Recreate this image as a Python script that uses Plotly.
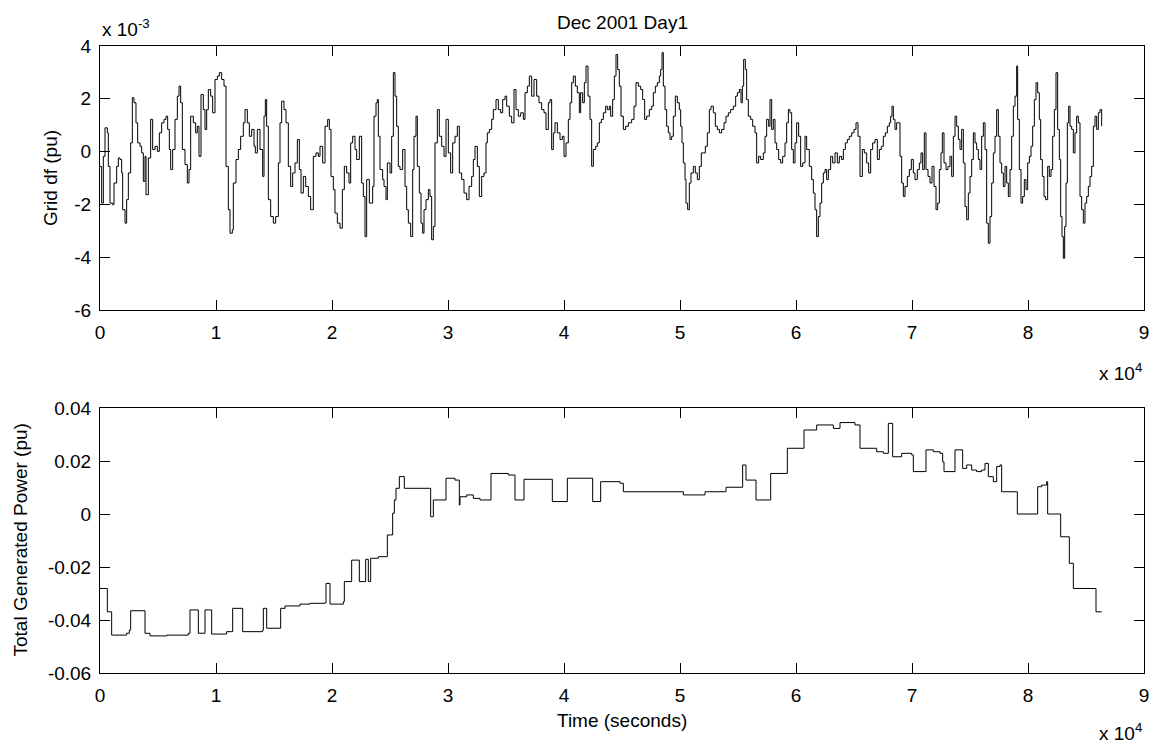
import plotly.graph_objects as go

# ---------------- data ----------------
# Grid df, (time in seconds, value in units of 1e-3 pu)
df_seg1 = [(0,-0.56),(144,-1.95),(287,-0.18),(431,0.90),(632,0.71),(718,-0.56),(862,-1.95),(1092,-2.01),(1207,-1.19),(1437,-0.56),(1580,-0.24),(1724,-0.30),(1868,-0.81),(1954,-2.20),(2155,-2.71),(2299,-1.82),(2443,-0.81),(2644,0.33),(2787,2.04),(2931,1.85),(3103,1.09),(3247,0.33),(3448,0.20),(3592,-0.05),(3736,-1.13),(3879,-0.18),(3966,-1.63),(4167,-0.24),(4368,1.22),(4540,0.08),(4741,0.20),(4943,0.01),(5115,0.71),(5316,1.09),(5517,1.22),(5690,1.34),(5833,0.84),(5977,0.08),(6092,-0.68),(6264,0.08),(6466,1.22),(6667,2.10),(6810,2.48),(6954,1.85),(7098,0.08),(7328,-0.49),(7529,-1.19),(7673,-0.68),(7816,1.34),(8046,1.09),(8247,0.71),(8391,0.96),(8535,-0.18),(8707,2.16),(8908,1.59),(9052,0.84),(9196,1.59),(9339,2.35),(9540,2.10),(9713,1.47),(9914,2.73),(10115,2.86),(10287,2.99),(10489,2.73),(10690,2.48),(10862,-0.56),(11063,-2.20),(11207,-3.09),(11408,-2.96),(11494,-1.19),(11724,-0.30),(11925,0.08),(12127,0.58),(12356,1.09),(12500,1.59),(12701,1.09),(12874,0.58),(13075,0.84),(13276,0.20),(13391,-0.05),(13563,0.84),(13793,0.08),(14023,-0.94),(14138,1.34),(14253,1.97),(14368,0.96),(14512,-1.82),(14713,-2.46),(14943,-2.71),(15144,-2.46),(15374,-0.43),(15517,1.09),(15661,1.91),(15862,1.59),(16035,1.09),(16236,-0.56),(16437,-1.32),(16609,-0.81),(16811,-0.43),(17012,0.46),(17184,-0.68),(17328,-1.57),(17529,-0.94),(17730,-1.32),(17960,-1.70),(18161,-2.20),(18391,-0.18),(18621,-0.05),(18822,-0.18),(18966,0.20),(19196,-0.43),(19397,0.96),(19627,1.22),(19770,0.84),(19914,-0.94),(20115,-1.44),(20259,-2.33),(20460,-2.71),(20690,-2.90),(20891,-1.44),(21063,-0.56),(21264,-0.81),(21466,-1.19),(21609,0.33),(21782,0.58),(21983,0.08),(22127,-0.30),(22357,0.58),(22558,-1.19),(22701,-1.70),(22845,-3.22),(22989,-1.06),(23219,-1.95)]
df_seg2 = [(23506,-1.32),(23621,1.34),(23793,1.85),(23908,1.97),(23994,0.58),(24138,-0.68),(24368,-1.06),(24483,-1.32),(24655,-1.82),(24770,-0.43),(25000,-0.81),(25144,0.58),(25288,2.99),(25431,2.10),(25575,0.96),(25719,-0.56),(25862,-0.68),(26092,0.08),(26293,-1.32),(26437,-2.20),(26580,-2.71),(26782,-3.22),(26954,-0.68),(27069,0.58),(27241,1.34),(27356,-0.56),(27529,-1.57),(27672,-2.71),(27816,-3.09),(27931,-2.20),(28103,-1.82),(28305,-1.44),(28448,-1.70),(28592,-3.34),(28736,-2.84),(28879,0.33),(29080,1.59),(29253,0.58),(29454,0.20),(29655,-0.18),(29828,1.22),(30029,-0.05),(30230,-0.81),(30402,0.33),(30603,0.58),(30805,0.96),(30977,-0.81),(31178,-1.06),(31379,-1.57),(31609,-1.82),(31810,-1.32),(32040,-0.94),(32184,-0.30),(32328,0.20),(32529,-0.56),(32701,-1.70),(32902,-0.94),(33103,-0.81),(33276,0.33),(33391,0.71),(33563,0.84),(33764,1.22),(33908,1.59),(34138,1.97),(34339,1.59),(34540,1.47),(34713,1.97),(34914,2.10),(35057,1.72),(35287,1.34),(35489,1.09),(35690,2.35),(35862,1.59),(36063,1.34),(36264,1.47),(36494,1.22),(36638,2.23),(36839,2.48),(37011,2.86),(37213,2.10),(37414,2.73),(37644,2.10),(37845,1.85),(38075,1.59),(38276,1.47),(38448,0.84),(38649,1.85),(38793,1.97),(38937,0.08),(39080,0.71),(39224,1.09),(39425,0.71),(39655,0.46),(39856,0.58),(40000,-0.18),(40172,0.33),(40374,1.22),(40517,1.85),(40661,2.61),(40805,2.86),(40977,2.48),(41149,2.23),(41322,1.47),(41437,2.23),(41609,1.85),(41753,2.61),(41897,3.24),(42069,2.10),(42241,1.22),(42385,-0.56),(42529,0.08),(42730,0.20),(42874,0.33),(43046,1.09),(43218,1.22),(43391,1.47),(43592,1.72),(43736,1.59),(43908,1.72),(44023,1.34),(44195,1.97),(44339,2.86),(44483,3.68),(44626,3.11),(44770,2.48),(44914,1.34),(45115,0.84),(45316,0.96),(45546,1.09)]
df_seg3 = [(45834,1.22),(46035,1.72),(46207,2.61),(46408,2.48),(46609,2.35),(46782,1.97),(46954,1.22),(47126,1.34),(47356,1.59),(47557,1.72),(47701,2.23),(47874,2.48),(48046,2.61),(48218,2.86),(48333,3.11),(48448,3.75),(48563,2.48),(48707,1.59),(48851,0.96),(48994,0.71),(49138,0.46),(49282,0.58),(49425,1.34),(49598,2.10),(49770,1.85),(49943,1.59),(50057,0.96),(50172,0.33),(50287,-0.43),(50431,-1.06),(50517,-1.95),(50661,-2.20),(50805,-1.19),(50948,-0.81),(51149,-0.56),(51322,-0.81),(51494,-1.06),(51667,-0.56),(51839,-0.05),(52011,-0.05),(52184,0.20),(52356,0.71),(52529,1.59),(52672,1.72),(52874,1.47),(53046,0.96),(53218,0.84),(53391,0.71),(53592,0.84),(53793,1.09),(53966,1.34),(54167,1.47),(54368,1.59),(54598,1.72),(54799,2.10),(54943,2.23),(55115,2.35),(55259,1.85),(55374,2.48),(55489,3.49),(55632,3.11),(55747,1.97),(55891,1.34),(56092,1.22),(56264,0.96),(56466,0.71),(56609,-0.43),(56782,-0.18),(56954,-0.30),(57184,-0.05),(57328,0.58),(57471,1.22),(57644,0.96),(57759,1.97),(57902,0.84),(58046,1.22),(58190,0.33),(58333,0.08),(58506,-0.30),(58678,-0.43),(58851,-0.18),(59052,0.33),(59195,1.09),(59339,1.59),(59483,1.47),(59626,0.08),(59770,-0.43),(59914,0.33),(60057,1.09),(60230,0.58),(60402,-0.56),(60575,-0.43),(60776,0.58),(60920,0.08),(61149,-0.56),(61351,-1.06),(61494,-1.57),(61638,-2.20),(61782,-3.22),(61925,-2.46),(62069,-1.95),(62213,-1.19),(62356,-0.81),(62500,-0.68),(62644,-1.06),(62787,-0.68),(62989,-0.18),(63161,-0.43),(63362,-0.05),(63563,-0.43),(63736,-0.18),(63937,-0.30),(64080,0.08),(64253,0.33),(64425,0.46),(64598,0.58),(64799,0.71),(65000,0.84),(65172,1.09),(65345,0.58),(65517,-0.94),(65718,0.08),(65891,-0.05),(66092,-0.43),(66264,-0.81),(66437,0.08)]
df_seg4 = [(66609,0.33),(66810,0.46),(67011,-0.30),(67184,0.08),(67356,0.20),(67529,0.58),(67701,0.71),(67874,0.96),(68046,1.09),(68161,1.34),(68276,1.72),(68391,1.22),(68534,0.84),(68678,1.09),(68851,1.09),(68966,-0.18),(69109,-1.19),(69253,-1.70),(69397,-1.32),(69598,-0.94),(69770,-0.68),(69943,-0.30),(70115,-0.81),(70259,-1.06),(70460,-0.68),(70632,-0.43),(70776,-0.05),(70920,-0.68),(71063,0.71),(71207,-0.68),(71379,-0.94),(71552,-1.19),(71724,-0.56),(71897,-1.32),(72069,-2.20),(72213,-1.95),(72356,-0.68),(72500,-0.05),(72615,0.71),(72759,-0.43),(72931,-0.68),(73103,-0.56),(73276,-0.18),(73420,-0.94),(73563,0.58),(73707,1.34),(73851,0.96),(73994,0.46),(74138,0.08),(74282,0.84),(74425,-0.43),(74569,-2.08),(74713,-2.58),(74856,-1.57),(75000,-0.94),(75144,-0.30),(75287,0.71),(75431,0.33),(75575,0.08),(75718,-0.30),(75862,-0.68),(76006,0.58),(76149,1.09),(76293,0.08),(76437,-2.71),(76580,-3.47),(76724,-2.46),(76868,-1.19),(77011,-0.05),(77155,0.58),(77299,1.59),(77443,0.58),(77586,-0.43),(77730,-0.81),(77874,-1.32),(78017,-0.56),(78161,-1.19),(78305,-1.70),(78448,-0.68),(78592,0.58),(78736,1.72),(78879,2.10),(79023,3.24),(79109,1.22),(79253,-0.68),(79397,-1.95),(79540,-1.70),(79684,-1.06),(79828,-1.44),(79971,-0.43),(80115,-0.18),(80259,0.20),(80402,0.96),(80546,1.97),(80690,2.61),(80833,2.23),(80977,1.22),(81092,-0.30),(81236,-0.94),(81379,-1.70),(81523,-1.82),(81695,-0.56),(81839,-0.94),(81983,-0.68),(82126,0.58),(82270,1.59),(82414,2.99),(82557,0.84),(82701,-0.30),(82816,-2.46),(82931,-3.22),(83046,-4.04),(83161,-2.84),(83276,-1.19),(83391,1.09),(83506,1.72),(83621,0.96),(83764,0.84),(83908,-0.05),(84052,0.71),(84195,1.34),(84339,1.09),(84483,-1.70),(84626,-2.20),(84770,-2.71),(84914,-1.95),(85057,-1.70),(85201,-1.32),(85345,-0.94),(85488,-0.56),(85632,0.96),(85776,1.34),(85920,0.84),(86063,1.47),(86207,1.59),(86351,0.96)]

# Total generated power (time in seconds, value in pu)
power_steps = [(0,-0.0281),(632,-0.0369),(1006,-0.0457),(2299,-0.0450),(2529,-0.0438),(2644,-0.0365),(3879,-0.0450),(4310,-0.0460),(5747,-0.0457),(7615,-0.0450),(7759,-0.0362),(8477,-0.0450),(9052,-0.0362),(9626,-0.0453),(10920,-0.0444),(11437,-0.0356),(12299,-0.0444),(14023,-0.0438),(14080,-0.0356),(14368,-0.0431),(15575,-0.0356),(15948,-0.0347),(17242,-0.0340),(18103,-0.0337),(19397,-0.0335),(19483,-0.0262),(19828,-0.0340),(20977,-0.0331),(21063,-0.0255),(21695,-0.0174),(22356,-0.0255),(22902,-0.0171),(23132,-0.0255),(23333,-0.0167),(24000,-0.0161),(24770,-0.0079),(25230,0.0003),(25374,0.0053),(25517,0.0097),(25805,0.0141),(26236,0.0097),(28506,-0.0010),(28736,0.0053),(29828,0.0135),(30603,0.0128),(30977,0.0034),(31035,0.0065),(31609,0.0072),(32184,0.0059),(32759,0.0053),(33707,0.0153),(35201,0.0147),(35776,0.0053),(36552,0.0131),(38994,0.0047),(40287,0.0135),(42471,0.0047),(43161,0.0122),(44828,0.0116),(45115,0.0084),(50287,0.0072),(52155,0.0084),(53966,0.0101),(55402,0.0185),(55690,0.0128),(56552,0.0053),(57816,0.0153),(59253,0.0248),(60690,0.0317),(61782,0.0336),(63218,0.0323),(63793,0.0345),(65086,0.0336),(65517,0.0248),(66954,0.0235),(67529,0.0229),(67960,0.0342),(68333,0.0216),(69109,0.0229),(69971,0.0223),(70115,0.0160),(71207,0.0242),(71839,0.0235),(72414,0.0229),(72644,0.0197),(72759,0.0160),(73707,0.0242),(74368,0.0172),(74713,0.0185),(75144,0.0166),(75575,0.0160),(76006,0.0166),(76293,0.0191),(76580,0.0141),(77011,0.0122),(77299,0.0179),(77586,0.0185),(77730,0.0084),(79080,0.0000),(80833,0.0103),(81178,0.0109),(81609,0.0122),(81695,0.0000),(82816,-0.0086),(83563,-0.0186),(83908,-0.0281),(85862,-0.0369),(86351,-0.0369)]

x_tickvals = [0, 10000, 20000, 30000, 40000, 50000, 60000, 70000, 80000, 90000]
x_ticktext = ["0", "1", "2", "3", "4", "5", "6", "7", "8", "9"]
df_tickvals = [-0.006, -0.004, -0.002, 0, 0.002, 0.004]
df_ticktext = ["-6", "-4", "-2", "0", "2", "4"]
p_tickvals = [-0.06, -0.04, -0.02, 0, 0.02, 0.04]
p_ticktext = ["-0.06", "-0.04", "-0.02", "0", "0.02", "0.04"]

title_text = "Dec 2001 Day1"
ylabel_top = "Grid df (pu)"
ylabel_bottom = "Total Generated Power (pu)"
xlabel_bottom = "Time (seconds)"

# ---------------- build ----------------
df_t, df_v = [], []
for seg in (df_seg1, df_seg2, df_seg3, df_seg4):
    for t, m in seg:
        df_t.append(t)
        df_v.append(m * 1e-3)
p_t = [a for a, b in power_steps]
p_v = [b for a, b in power_steps]

FONT = "Liberation Sans, Arial, sans-serif"
FS = 19
W, H = 1161, 749
ML, MR, MT, MB = 100, 17, 46, 76
PH = H - MT - MB
top_dom = [(H - MB - 310) / PH, 1.0]
bot_dom = [0.0, (H - MB - 408) / PH]

fig = go.Figure()
fig.add_trace(go.Scatter(x=df_t, y=df_v, mode="lines", line=dict(color="black", width=1, shape="hv"),
                         xaxis="x", yaxis="y", showlegend=False, hoverinfo="skip"))
fig.add_trace(go.Scatter(x=p_t, y=p_v, mode="lines", line=dict(color="black", width=1, shape="hv"),
                         xaxis="x2", yaxis="y2", showlegend=False, hoverinfo="skip"))

axis_common = dict(showline=True, linecolor="black", linewidth=1, mirror="allticks",
                   ticks="inside", ticklen=10, tickwidth=1, tickcolor="black",
                   showgrid=False, zeroline=False, tickfont=dict(family=FONT, size=FS, color="black"))

fig.update_layout(
    width=W, height=H,
    margin=dict(l=ML, r=MR, t=MT, b=MB),
    paper_bgcolor="white", plot_bgcolor="white",
    font=dict(family=FONT, size=FS, color="black"),
    xaxis=dict(domain=[0, 1], anchor="y", range=[0, 90000], tickmode="array",
               tickvals=x_tickvals, ticktext=x_ticktext, ticklabelstandoff=5, **axis_common),
    yaxis=dict(domain=top_dom, anchor="x", range=[-0.006, 0.004], tickmode="array",
               tickvals=df_tickvals, ticktext=df_ticktext, ticklabelstandoff=4, **axis_common),
    xaxis2=dict(domain=[0, 1], anchor="y2", range=[0, 90000], tickmode="array",
                tickvals=x_tickvals, ticktext=x_ticktext, ticklabelstandoff=5, **axis_common),
    yaxis2=dict(domain=bot_dom, anchor="x2", range=[-0.06, 0.04], tickmode="array",
                tickvals=p_tickvals, ticktext=p_ticktext, ticklabelstandoff=4, **axis_common),
)

ann = []
ann.append(dict(text=title_text, x=0.5, y=1, xref="paper", yref="paper", xanchor="center",
                yanchor="middle", yshift=24, showarrow=False, font=dict(family=FONT, size=FS)))
ann.append(dict(text="x 10<sup>-3</sup>", x=0, y=1, xref="paper", yref="paper", xanchor="left",
                yanchor="bottom", yshift=4, showarrow=False, font=dict(family=FONT, size=FS)))
ann.append(dict(text="x 10<sup>4</sup>", x=1, y=top_dom[0], xref="paper", yref="paper", xanchor="right",
                yanchor="middle", yshift=-62, showarrow=False, font=dict(family=FONT, size=FS)))
ann.append(dict(text="x 10<sup>4</sup>", x=1, y=bot_dom[0], xref="paper", yref="paper", xanchor="right",
                yanchor="middle", yshift=-59, showarrow=False, font=dict(family=FONT, size=FS)))
ann.append(dict(text=ylabel_top, x=0, y=(top_dom[0] + top_dom[1]) / 2, xref="paper", yref="paper",
                xanchor="center", yanchor="middle", xshift=-50, textangle=-90, showarrow=False,
                font=dict(family=FONT, size=FS)))
ann.append(dict(text=ylabel_bottom, x=0, y=(bot_dom[0] + bot_dom[1]) / 2, xref="paper", yref="paper",
                xanchor="center", yanchor="middle", xshift=-80, textangle=-90, showarrow=False,
                font=dict(family=FONT, size=FS)))
ann.append(dict(text=xlabel_bottom, x=0.5, y=0, xref="paper", yref="paper", xanchor="center",
                yanchor="middle", yshift=-47, showarrow=False, font=dict(family=FONT, size=FS)))
fig.update_layout(annotations=ann)

fig.write_html("out.html")
